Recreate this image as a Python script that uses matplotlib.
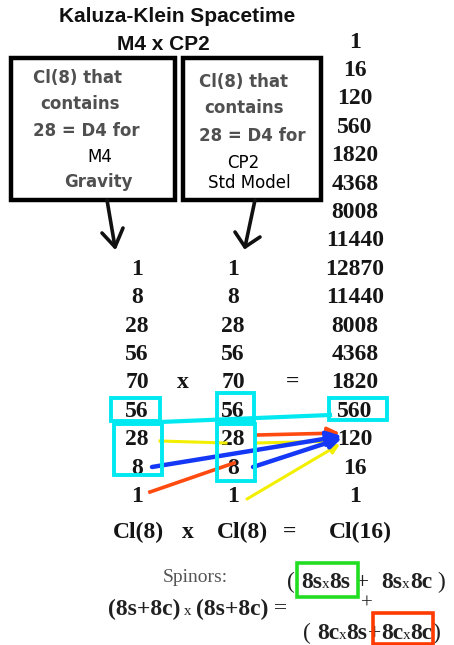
import matplotlib
matplotlib.use("Agg")
import matplotlib.pyplot as plt
from matplotlib.patches import Rectangle

# ---------------- data ----------------
cl16_dims = [1, 16, 120, 560, 1820, 4368, 8008, 11440, 12870,
             11440, 8008, 4368, 1820, 560, 120, 16, 1]
cl8_dims = [1, 8, 28, 56, 70, 56, 28, 8, 1]
title_lines = ["Kaluza-Klein Spacetime", "M4 x CP2"]
box_left_lines = ["Cl(8) that", "contains", "28 = D4 for"]
box_left_tail = ["M4", "Gravity"]
box_right_lines = ["Cl(8) that", "contains", "28 = D4 for"]
box_right_tail = ["CP2", "Std Model"]
bottom_labels = ["Cl(8)", "x", "Cl(8)", "=", "Cl(16)"]

W, H = 454, 645
fig = plt.figure(figsize=(W / 100, H / 100), dpi=100)
ax = fig.add_axes([0, 0, 1, 1])
ax.set_xlim(0, W)
ax.set_ylim(H, 0)
ax.axis("off")
renderer = fig.canvas.get_renderer()

SERIF = "Liberation Serif"
SANS = "Liberation Sans"
WIDE = "DejaVu Sans"
GRAY = "#505050"

# title
ax.text(177, 17, title_lines[0], ha="center", va="center", family=SANS,
        weight="bold", fontsize=15, color="#111111")
ax.text(163, 44, title_lines[1], ha="center", va="center", family=SANS,
        weight="bold", fontsize=15, color="#111111")

# black boxes
for (x0, x1) in [(11, 175), (183, 321)]:
    ax.add_patch(Rectangle((x0, 58), x1 - x0, 142, fill=False,
                           ec="black", lw=3.2, zorder=2))

BFS = 12
left_y = [78, 104, 131]
left_x = [33, 40, 33]
for t, x, y in zip(box_left_lines, left_x, left_y):
    ax.text(x, y, t, ha="left", va="center", family=WIDE, weight="bold",
            fontsize=BFS, color=GRAY)
ax.text(100, 157, box_left_tail[0], ha="center", va="center", family=WIDE,
        fontsize=BFS, color="black")
ax.text(98, 182, box_left_tail[1], ha="center", va="center", family=WIDE,
        weight="bold", fontsize=BFS, color=GRAY)

right_y = [82, 108, 136]
right_x = [199, 204, 199]
for t, x, y in zip(box_right_lines, right_x, right_y):
    ax.text(x, y, t, ha="left", va="center", family=WIDE, weight="bold",
            fontsize=BFS, color=GRAY)
ax.text(243, 163, box_right_tail[0], ha="center", va="center", family=WIDE,
        fontsize=BFS, color="black")
ax.text(249, 183, box_right_tail[1], ha="center", va="center", family=WIDE,
        fontsize=BFS, color="black")

# hand-drawn black arrows
for (sx, sy, ex, ey, w1, w2) in [(107, 200, 115, 247, (102, 233), (123, 228)),
                                 (255, 200, 245, 247, (235, 232), (260, 237))]:
    ax.plot([sx, ex], [sy, ey], color="#111111", lw=2.6, solid_capstyle="round")
    ax.plot([w1[0], ex, w2[0]], [w1[1], ey, w2[1]], color="#111111", lw=2.6,
            solid_capstyle="round", solid_joinstyle="round")

# numeric columns
y0, dy = 42, 28.4
NUMFS = 17
for i, v in enumerate(cl16_dims):
    ax.text(355, y0 + i * dy, str(v), ha="center", va="center", family=SERIF,
            weight="bold", fontsize=NUMFS, color="#151515", zorder=3)
for i, v in enumerate(cl8_dims):
    yy = y0 + (i + 8) * dy
    ax.text(137, yy, str(v), ha="center", va="center", family=SERIF,
            weight="bold", fontsize=NUMFS, color="#151515", zorder=3)
    ax.text(233, yy, str(v), ha="center", va="center", family=SERIF,
            weight="bold", fontsize=NUMFS, color="#151515", zorder=3)
ax.text(183, y0 + 12 * dy, "x", ha="center", va="center", family=SERIF,
        weight="bold", fontsize=NUMFS, color="#151515")
ax.text(293, y0 + 12 * dy, "=", ha="center", va="center", family=SERIF,
        weight="bold", fontsize=NUMFS, color="#151515")

# bottom labels
for t, x in zip(bottom_labels, [138, 188, 242, 290, 360]):
    ax.text(x, 532, t, ha="center", va="center", family=SERIF, weight="bold",
            fontsize=NUMFS, color="#151515")

# cyan boxes
CYAN = "#00e8f0"
for (x0, y0b, x1, y1) in [(111, 398, 160, 421), (217, 393, 254, 422),
                          (329, 398, 387, 420), (114, 424, 162, 475),
                          (217, 424, 255, 481)]:
    ax.add_patch(Rectangle((x0, y0b), x1 - x0, y1 - y0b, fill=False,
                           ec=CYAN, lw=2.8, zorder=5))
ax.plot([160, 330], [422, 415], color=CYAN, lw=3, zorder=5)

# colored arrows
YEL = "#f2f000"
RED = "#ff4a10"
BLUE = "#1438f5"


def arrow(s, e, c, lw, ms):
    ax.annotate("", xy=e, xytext=s, zorder=4,
                arrowprops=dict(arrowstyle="-|>", color=c, lw=lw,
                                mutation_scale=ms, shrinkA=0, shrinkB=0))


ax.plot([160, 226], [441, 443], color=YEL, lw=2.2, zorder=4)
arrow((256, 443), (338, 441), YEL, 2.2, 12)
arrow((247, 499), (340, 444), YEL, 2.2, 14)
ax.plot([150, 234], [492, 463], color=RED, lw=2.6, zorder=4)
arrow((257, 435), (340, 433), RED, 2.6, 18)
arrow((152, 467), (342, 436), BLUE, 3.2, 22)
arrow((253, 467), (342, 438), BLUE, 3.2, 18)


# spinor formula
def chain(x, y, pieces, color="#202020"):
    for text, fs, bold in pieces:
        t = ax.text(x, y, text, ha="left", va="baseline", family=SERIF,
                    weight="bold" if bold else "normal", fontsize=fs,
                    color=color)
        bb = t.get_window_extent(renderer)
        x += bb.width
    return x


ax.text(195, 582, "Spinors:", ha="center", va="baseline", family=SERIF,
        fontsize=14, color="#555555")
BIG, SM = 17, 11
chain(108, 615, [("(8s+8c)", BIG, True), (" x ", SM, False),
                 ("(8s+8c)", BIG, True), (" =", BIG, False)])
chain(287, 588, [("( ", BIG, False), ("8s", BIG, True), ("x", SM, False),
                 ("8s", BIG, True), (" +  ", BIG, False), ("8s", BIG, True),
                 ("x", SM, False), ("8c", BIG, True), (" )", BIG, False)])
ax.text(367, 604, "+", ha="center", va="center", family=SERIF, fontsize=15,
        color="#202020")
chain(303, 639, [("( ", BIG, False), ("8c", BIG, True), ("x", SM, False),
                 ("8s", BIG, True), ("+", BIG, False), ("8c", BIG, True),
                 ("x", SM, False), ("8c", BIG, True), (")", BIG, False)])

ax.add_patch(Rectangle((297, 563), 61, 34, fill=False, ec="#22dd22", lw=2.6,
                       zorder=5))
ax.add_patch(Rectangle((373, 613), 60, 31, fill=False, ec="#ff3a00", lw=2.6,
                       zorder=5))

fig.savefig("out.png", dpi=100)
